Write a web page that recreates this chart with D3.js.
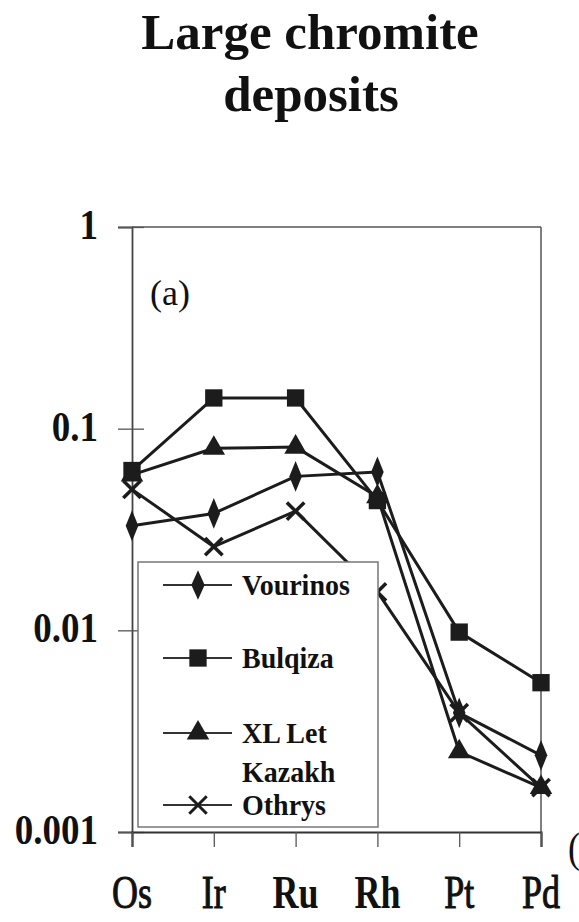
<!DOCTYPE html>
<html>
<head>
<meta charset="utf-8">
<script src="https://cdn.jsdelivr.net/npm/d3@7"></script>
<style>
  body { margin: 0; background: #fff; }
  svg { display: block; font-family: "Liberation Serif", "Times New Roman", serif; }
</style>
</head>
<body>
<svg width="579" height="922"></svg>
<script>
// values (normalised PGE, log scale)
const elements = ['Os', 'Ir', 'Ru', 'Rh', 'Pt', 'Pd'];
const elementWeight = ['normal', 'normal', 'bold', 'bold', 'normal', 'normal'];
const vourinos = [0.033, 0.038, 0.058, 0.061, 0.0039, 0.0024];
const bulqiza = [0.062, 0.142, 0.142, 0.044, 0.0098, 0.0055];
const xlLet = [0.059, 0.080, 0.081, 0.046, 0.0025, 0.00166];
const othrys = [0.050, 0.026, 0.039, 0.0155, 0.0039, 0.00166];
const seriesNames = ['Vourinos', 'Bulqiza', 'XL Let Kazakh', 'Othrys'];
const yTicks = [1, 0.1, 0.01, 0.001];
const yTickLabels = ['1', '0.1', '0.01', '0.001'];

const svg = d3.select('svg');
const ink = '#1c1c1c';

const x = d3.scalePoint().domain(elements).range([132, 541]);
const y = d3.scaleLog().domain([0.001, 1]).range([832, 227]);

// text that looks stretched upward like the scanned figure
function tallText(parent, tx, ty, str, size, sy, anchor, weight) {
  return parent.append('text')
    .attr('transform', 'translate(' + tx + ',' + ty + ') scale(1,' + sy + ')')
    .attr('text-anchor', anchor)
    .attr('font-size', size)
    .attr('font-weight', weight)
    .attr('fill', '#111')
    .text(str);
}

// title
svg.append('text').attr('x', 310).attr('y', 49).attr('text-anchor', 'middle')
  .attr('font-size', 51).attr('font-weight', 'bold').attr('fill', '#111')
  .text('Large chromite');
svg.append('text').attr('x', 311).attr('y', 111).attr('text-anchor', 'middle')
  .attr('font-size', 51).attr('font-weight', 'bold').attr('fill', '#111')
  .text('deposits');

// frame top / right
svg.append('line').attr('x1', 132).attr('x2', 541).attr('y1', y(1)).attr('y2', y(1))
  .attr('stroke', '#555').attr('stroke-width', 1.5);
svg.append('line').attr('x1', 541).attr('x2', 541).attr('y1', y(1)).attr('y2', y(0.001))
  .attr('stroke', '#555').attr('stroke-width', 1.5);

// y axis
const yAxis = svg.append('g').attr('transform', 'translate(132,0)')
  .call(d3.axisLeft(y).tickValues(yTicks).tickSize(14).tickFormat(''));
yAxis.select('.domain').attr('stroke', '#444').attr('stroke-width', 1.8);
yAxis.selectAll('.tick line').attr('x1', 12).attr('stroke', '#555').attr('stroke-width', 1.3);
yTicks.forEach(function(v, i) {
  tallText(svg, 98, y(v) + 12, yTickLabels[i], 37, 1.15, 'end', 'bold');
});

// x axis
const xAxis = svg.append('g').attr('transform', 'translate(0,832)')
  .call(d3.axisBottom(x).tickSize(15).tickFormat(''));
xAxis.select('.domain').attr('stroke', '#333').attr('stroke-width', 2.2);
xAxis.selectAll('.tick line').attr('stroke', '#555').attr('stroke-width', 1.3);
elements.forEach(function(e, i) {
  const t = tallText(svg, x(e), 908, e, 36, 1.3, 'middle', elementWeight[i]);
  if (elementWeight[i] == 'normal') t.attr('stroke', '#111').attr('stroke-width', 0.8);
});

// panel letter and cut-off neighbour
svg.append('text').attr('x', 150).attr('y', 305).attr('font-size', 36)
  .attr('fill', '#111').text('(a)');
tallText(svg, 568, 862, '(', 36, 1.15, 'start', 'normal');

// markers
const shapes = [
  d3.symbol().type(d3.symbolDiamond).size(190),
  d3.symbol().type(d3.symbolSquare).size(300),
  d3.symbol().type(d3.symbolTriangle).size(220),
  d3.symbol().type(d3.symbolTimes).size(200)
];
const allSeries = [vourinos, bulqiza, xlLet, othrys];

const line = d3.line()
  .x(function(d, i) { return x(elements[i]); })
  .y(function(d) { return y(d); });

allSeries.forEach(function(vals, s) {
  const g = svg.append('g');
  g.append('path').datum(vals).attr('d', line)
    .attr('fill', 'none').attr('stroke', ink).attr('stroke-width', 3)
    .attr('stroke-linejoin', 'round');
  g.selectAll('path.pt').data(vals).enter().append('path')
    .attr('class', 'pt')
    .attr('transform', function(d, i) {
      return 'translate(' + x(elements[i]) + ',' + y(d) + ') scale(' + (s == 0 ? '0.85,1.2' : '1,1') + ')';
    })
    .attr('d', shapes[s])
    .attr('fill', ink)
    .attr('stroke', s == 3 ? ink : 'none')
    .attr('stroke-width', s == 3 ? 3.5 : 0);
});

// legend
const legend = svg.append('g');
legend.append('rect').attr('x', 138).attr('y', 562).attr('width', 240).attr('height', 265)
  .attr('fill', '#fff').attr('stroke', '#777').attr('stroke-width', 1.5);
const legendY = [585, 658, 733, 805];
const legendText = [['Vourinos'], ['Bulqiza'], ['XL Let', 'Kazakh'], ['Othrys']];
seriesNames.forEach(function(name, s) {
  const ly = legendY[s];
  legend.append('line').attr('x1', 163).attr('x2', 232).attr('y1', ly).attr('y2', ly)
    .attr('stroke', '#333').attr('stroke-width', 2);
  legend.append('path')
    .attr('transform', 'translate(198,' + ly + ') scale(' + (s == 0 ? '0.9,1.15' : '1,1') + ')')
    .attr('d', shapes[s])
    .attr('fill', ink)
    .attr('stroke', s == 3 ? ink : 'none')
    .attr('stroke-width', s == 3 ? 3 : 0);
  legendText[s].forEach(function(t, k) {
    tallText(legend, 242, ly + 10 + k * 39, t, 28, 1.05, 'start', 'bold');
  });
});
</script>
</body>
</html>
